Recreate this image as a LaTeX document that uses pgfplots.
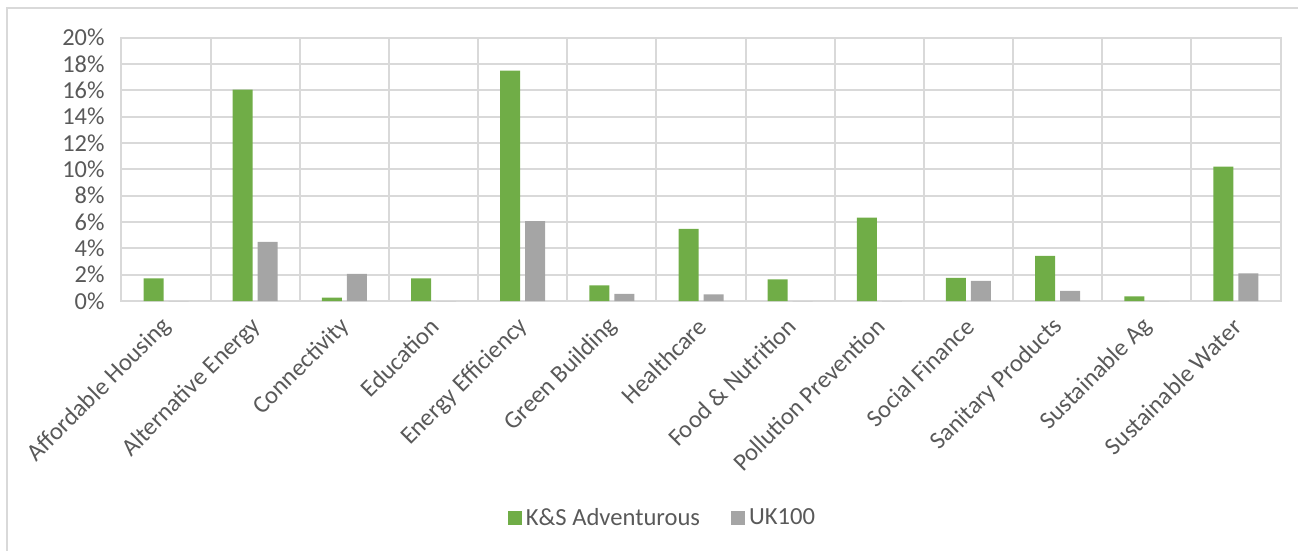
\documentclass[border=0pt]{standalone}
\usepackage{pgfplots}
\pgfplotsset{compat=1.18}
\usepackage{fontspec}
\setmainfont{Carlito}
\definecolor{kgreen}{HTML}{70AD47}
\definecolor{kgray}{HTML}{A5A5A5}
\definecolor{gridc}{HTML}{D9D9D9}
\definecolor{txt}{HTML}{595959}
\begin{document}
\begin{tikzpicture}
\path[use as bounding box] (-60.75bp,-125bp) rectangle (588.25bp,150.5bp);
\draw[gridc, line width=1bp] (-57.25bp,-125bp) -- (-57.25bp,146.25bp) -- (588.25bp,146.25bp);
\begin{axis}[
  at={(0,0)}, anchor=south west,
  scale only axis,
  width=579.5bp, height=131.65bp,
  ybar=2.5bp, bar width=10bp,
  xmin=-0.5, xmax=12.5,
  ymin=0, ymax=20,
  xtick={0,...,12},
  xticklabels={Affordable Housing,Alternative Energy,Connectivity,Education,Energy Efficiency,Green Building,Healthcare,Food \& Nutrition,Pollution Prevention,Social Finance,Sanitary Products,Sustainable Ag,Sustainable Water},
  minor xtick={-0.5,0.5,...,12.5},
  xminorgrids=true, xmajorgrids=false,
  ytick={0,2,...,20},
  yticklabels={0\%,2\%,4\%,6\%,8\%,10\%,12\%,14\%,16\%,18\%,20\%},
  ymajorgrids=true,
  grid style={gridc, line width=1bp},
  minor grid style={gridc, line width=1bp},
  major tick length=0pt, minor tick length=0pt,
  axis line style={gridc, line width=1bp},
  tick style={draw=none},
  /pgf/number format/assume math mode=true,
  xticklabel style={font=\fontsize{12.3bp}{14bp}\selectfont, text=txt, xshift=1.5bp, yshift=-10bp, rotate=45, anchor=east, inner sep=1bp},
  yticklabel style={font=\fontsize{12.2bp}{14bp}\selectfont, text=txt, xshift=-5bp},
  legend style={at={(0.4676,-0.825)}, anchor=center, draw=none, fill=none,
    font=\fontsize{12.3bp}{14bp}\selectfont, text=txt, legend columns=2,
    /tikz/every even column/.append style={column sep=13.5bp}},
  legend image code/.code={\fill[#1] (0bp,-3.5bp) rectangle (7bp,3.5bp);},
]
\addplot[fill=kgreen, draw=none] coordinates {
  (0,1.72) (1,16.05) (2,0.25) (3,1.72) (4,17.5) (5,1.19) (6,5.47) (7,1.65) (8,6.33) (9,1.75) (10,3.42) (11,0.36) (12,10.2)};
\addplot[fill=kgray, draw=none] coordinates {
  (0,0) (1,4.5) (2,2.07) (3,0) (4,6.07) (5,0.55) (6,0.5) (7,0) (8,0) (9,1.52) (10,0.76) (11,0) (12,2.1)};
\legend{K\&S Adventurous, UK100}
\end{axis}
\end{tikzpicture}
\end{document}
